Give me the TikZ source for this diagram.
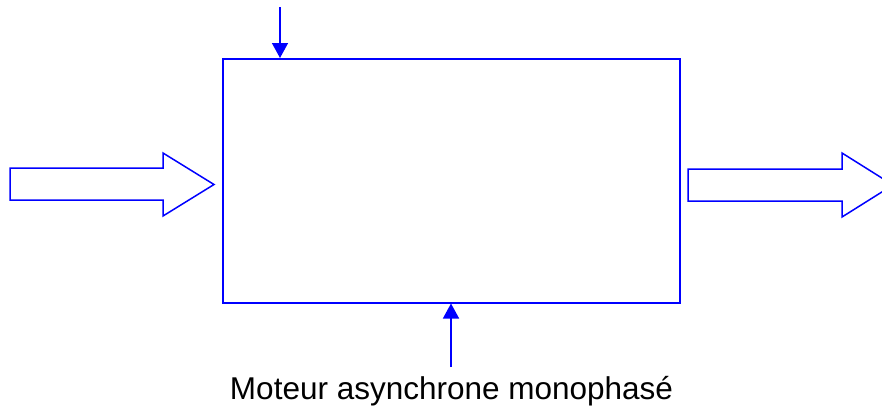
\documentclass[tikz,border=0pt]{standalone}
\usepackage{fontspec}
\setmainfont{Liberation Sans}
\usetikzlibrary{arrows.meta}
\definecolor{lineblue}{RGB}{0,0,255}
\tikzset{
  outline/.style={draw=lineblue, line width=1.5pt, line join=miter},
  signal/.style={draw=lineblue, line width=1.5pt, -{Triangle[length=15pt,width=16pt]}},
  caption/.style={font=\fontsize{31.5}{36}\selectfont, text=black, inner sep=0pt, anchor=base}
}
\begin{document}
\begin{tikzpicture}[x=1pt,y=-1pt]
\useasboundingbox (0,0) rectangle (882,407);
\begin{scope}
\clip (0,0) rectangle (882,407);
% main box
\node[outline, minimum width=457pt, minimum height=244pt, inner sep=0pt, anchor=north west] (box) at (222,58) {};
% left block arrow
\draw[outline] (10,168) -- (163,168) -- (163,153) -- (214,184.5) -- (163,216) -- (163,200) -- (10,200) -- cycle;
% right block arrow
\draw[outline] (688,169) -- (842,169) -- (842,153) -- (893,185) -- (842,217) -- (842,201) -- (688,201) -- cycle;
% top signal
\coordinate (topstart) at (280,7);
\draw[signal] (topstart) -- (box.north west -| topstart);
% bottom signal
\coordinate (botstart) at (451,367);
\draw[signal] (botstart) -- (box.south west -| botstart);
\end{scope}
\node[caption] (label) at (451.5,399) {Moteur asynchrone monophasé};
\end{tikzpicture}
\end{document}
